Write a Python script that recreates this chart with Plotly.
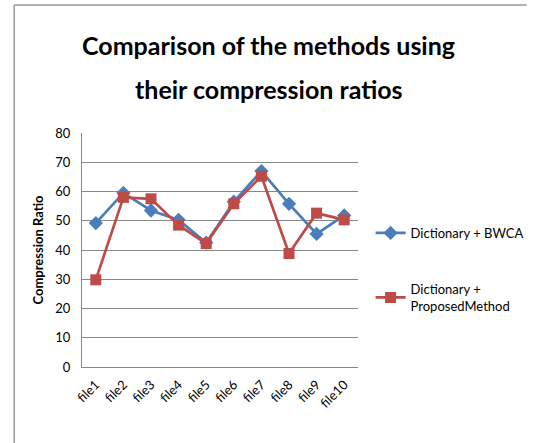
import plotly.graph_objects as go

categories = ["file1", "file2", "file3", "file4", "file5", "file6", "file7", "file8", "file9", "file10"]
bwca = [49.2, 59.5, 53.5, 50.3, 42.5, 56.5, 67.0, 55.8, 45.5, 51.8]
proposed = [29.8, 58.0, 57.5, 48.5, 42.2, 55.8, 65.2, 38.8, 52.6, 50.3]
yticks = [0, 10, 20, 30, 40, 50, 60, 70, 80]

W, H = 541, 443
L, R, T, B = 82, 367, 133, 367

def px(x):
    return (x - L) / (R - L)

def py(y):
    return (B - y) / (B - T)

blue = "#4A7EBB"
red = "#BE4B48"
font = "Lato"

fig = go.Figure()
fig.add_trace(go.Scatter(
    x=categories, y=bwca, mode="lines+markers", name="Dictionary + BWCA",
    line=dict(color=blue, width=2.7),
    marker=dict(symbol="diamond", size=11, color=blue),
    legend="legend",
))
fig.add_trace(go.Scatter(
    x=categories, y=proposed, mode="lines+markers", name="Dictionary +<br>ProposedMethod",
    line=dict(color=red, width=2.7),
    marker=dict(symbol="square", size=11, color=red),
    legend="legend2",
))

fig.update_layout(
    width=W, height=H,
    margin=dict(l=L, r=W - R, t=T, b=H - B),
    paper_bgcolor="white", plot_bgcolor="white",
    font=dict(family=font, size=12, color="#000"),
    showlegend=True,
    legend=dict(x=px(380), y=py(218), xanchor="left", yanchor="top",
                font=dict(family=font, size=13), itemwidth=30, bgcolor="rgba(0,0,0,0)"),
    legend2=dict(x=px(380), y=py(274), xanchor="left", yanchor="top",
                 font=dict(family=font, size=13), itemwidth=30, bgcolor="rgba(0,0,0,0)"),
    xaxis=dict(
        type="category", tickangle=-45, showgrid=False, showline=True,
        linecolor="#888", linewidth=1, ticks="", tickfont=dict(family=font, size=13),
        range=[-0.5, len(categories) - 0.5], ticklabelstandoff=4,
    ),
    yaxis=dict(
        range=[0, 80], tickvals=yticks, showgrid=True, gridcolor="#888", gridwidth=1,
        showline=True, linecolor="#888", linewidth=1, ticks="", zeroline=False,
        tickfont=dict(family=font, size=13), ticklabelstandoff=8,
        title=dict(text="<b>Compression Ratio</b>", font=dict(family=font, size=13), standoff=8),
    ),
    annotations=[
        dict(text="<b>Comparison of the methods using</b>", x=px(275), y=py(45),
             xref="paper", yref="paper", showarrow=False, xanchor="center", yanchor="middle",
             font=dict(family=font, size=25, color="#000")),
        dict(text="<b>their compression ratios</b>", x=px(275), y=py(89),
             xref="paper", yref="paper", showarrow=False, xanchor="center", yanchor="middle",
             font=dict(family=font, size=25, color="#000")),
    ],
    shapes=[
        dict(type="line", xref="paper", yref="paper", x0=px(12), x1=px(541), y0=py(5), y1=py(5),
             line=dict(color="#999", width=1.5)),
        dict(type="line", xref="paper", yref="paper", x0=px(12), x1=px(12), y0=py(5), y1=py(443),
             line=dict(color="#999", width=1.5)),
    ],
)

fig.write_html("out.html", config={"displayModeBar": False},
               post_script="document.body.style.margin='0';")
